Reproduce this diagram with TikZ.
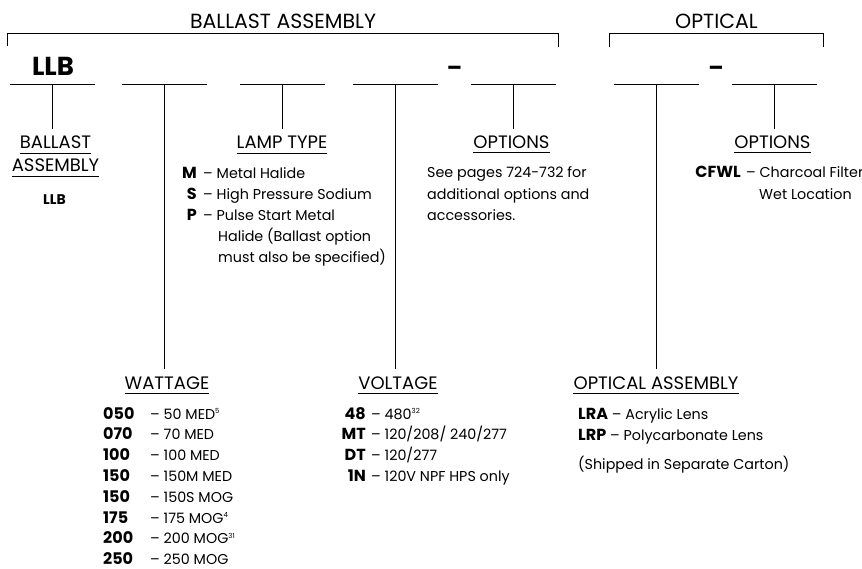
\documentclass[tikz,border=0pt]{standalone}
\usepackage{fontspec}
\setmainfont{Poppins}
\newcommand\mysup[1]{\textsuperscript{\fontsize{7}{8}\selectfont #1}}
\newcommand\mycb[1]{{\fontsize{16}{18}\selectfont\bfseries #1}}
\begin{document}
\begin{tikzpicture}[x=1pt,y=-1pt,
  ln/.style={line width=1pt},
  ul/.style={line width=0.8pt},
  top/.style={anchor=base,inner sep=0pt,font=\fontsize{20.5}{24}\selectfont},
  hd/.style={anchor=base,inner sep=0pt,font=\fontsize{18}{21}\selectfont},
  bd/.style={anchor=base west,inner sep=0pt,font=\fontsize{14.3}{17}\selectfont},
  cde/.style={anchor=base east,inner sep=0pt,font=\fontsize{16}{18}\selectfont\bfseries},
  cdw/.style={anchor=base west,inner sep=0pt,font=\fontsize{16}{18}\selectfont\bfseries},
  big/.style={anchor=base,inner sep=0pt,font=\fontsize{26}{28}\selectfont\bfseries}]
\useasboundingbox (0,0) rectangle (862,569);
% brackets
\node[top] (ba) at (283,29) {BALLAST ASSEMBLY};
\draw[ln] (7,46) |- (558,33.5) -- (558,47);
\node[top] (op) at (716.5,28.5) {OPTICAL};
\draw[ln] (609,47) |- (823,34) -- (823,47);
% code line
\node[big] (llb) at (53,76) {LLB};
\node[big,font=\fontsize{22}{24}\selectfont\bfseries] (d1) at (454.5,76) {–};
\node[big,font=\fontsize{22}{24}\selectfont\bfseries] (d2) at (716,76) {–};
\foreach \n/\c in {1/52.5,2/164.5,3/282.5,4/395,5/513.5,6/656.5,7/774.5}{
  \coordinate (b\n) at (\c,85);
  \draw[ln] ([xshift=-42.5pt]b\n) -- ([xshift=42.5pt]b\n);
}
% headings
\node[hd] (h1a) at (55.5,149) {BALLAST};
\node[hd] (h1b) at (55.5,172) {ASSEMBLY};
\node[hd] (h3) at (282,149) {LAMP TYPE};
\node[hd] (h5) at (511.5,148.5) {OPTIONS};
\node[hd] (h7) at (772.5,148.5) {OPTIONS};
\node[hd] (h2) at (167,389) {WATTAGE};
\node[hd] (h4) at (398,389) {VOLTAGE};
\node[hd] (h6) at (656,389) {OPTICAL ASSEMBLY};
\foreach \h in {h1a,h1b,h3,h5,h7,h2,h4,h6}{
  \draw[ul] ([yshift=-4pt]\h.base west) -- ([yshift=-4pt]\h.base east);
}
% connectors
\draw[ln,shorten >=7pt] (b1) -- (b1 |- h1a.north);
\draw[ln,shorten >=7pt] (b2) -- (b2 |- h2.north);
\draw[ln,shorten >=7pt] (b3) -- (b3 |- h3.north);
\draw[ln,shorten >=7pt] (b4) -- (b4 |- h4.north);
\draw[ln,shorten >=7pt] (b5) -- (b5 |- h5.north);
\draw[ln,shorten >=7pt] (b6) -- (b6 |- h6.north);
\draw[ln,shorten >=7pt] (b7) -- (b7 |- h7.north);
% ballast assembly
\node[anchor=base,inner sep=0pt,font=\fontsize{14}{16}\selectfont\bfseries] (llb2) at (54.5,205) {LLB};
% lamp type
\node[cde] (m) at (197,179) {M};
\node[bd] (mt) at (203,179) {– Metal Halide};
\node[cde] (s) at (197,200) {S};
\node[bd] (st) at (203,200) {– High Pressure Sodium};
\node[cde] (p) at (197,221) {P};
\node[bd] (pt) at (203,221) {– Pulse Start Metal};
\node[bd] (pt2) at (218,242) {Halide (Ballast option};
\node[bd] (pt3) at (218,263) {must also be specified)};
% options 1
\node[bd] (o1) at (427,178) {See pages 724-732 for};
\node[bd] (o2) at (427,199.5) {additional options and};
\node[bd] (o3) at (427,221) {accessories.};
% options 2
\node[cde] (cf) at (741,178) {CFWL};
\node[bd] (cft) at (746,178) {– Charcoal Filter};
\node[bd] (cft2) at (759,199.5) {Wet Location};
% wattage
\foreach \i/\c/\t in {0/050/{50 MED\mysup{5}},1/070/{70 MED},2/100/{100 MED},3/150/{150M MED},4/150/{150S MOG},5/175/{175 MOG\mysup{4}},6/200/{200 MOG\mysup{31}},7/250/{250 MOG}}{
  \node[cdw] (w\i) at (103,419+20.8*\i) {\c};
  \node[bd] (wt\i) at (150,419+20.8*\i) {– \t};
}
% voltage
\foreach \i/\c/\t in {0/48/{480\mysup{32}},1/MT/{120/208/ 240/277},2/DT/{120/277},3/1N/{120V NPF HPS only}}{
  \node[cde] (v\i) at (366,419+20.8*\i) {\c};
  \node[bd] (vt\i) at (371,419+20.8*\i) {– \t};
}
% optical assembly
\node[bd] (lra) at (578,419) {\mycb{LRA} – Acrylic Lens};
\node[bd] (lrp) at (578,440) {\mycb{LRP} – Polycarbonate Lens};
\node[bd] (sh) at (578,469) {(Shipped in Separate Carton)};
\end{tikzpicture}
\end{document}
